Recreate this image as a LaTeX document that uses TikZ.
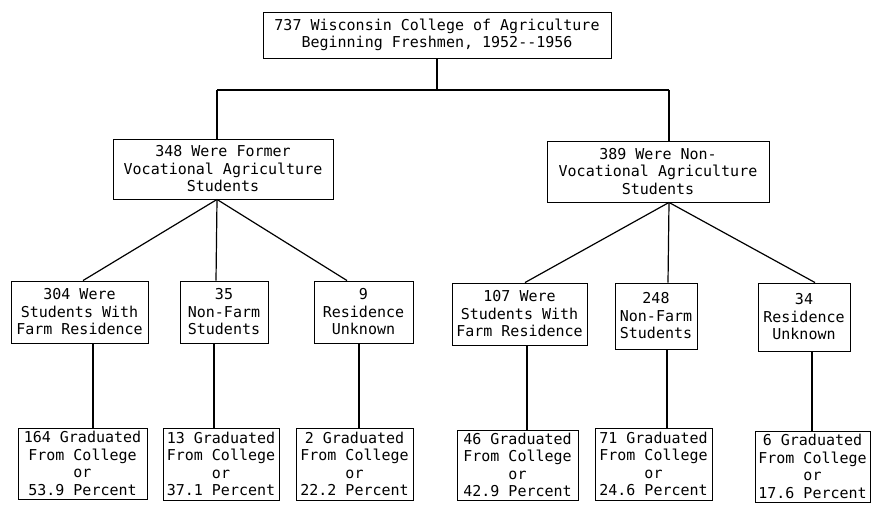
\documentclass[tikz,border=0pt]{standalone}
\usepackage{fontspec}
\setmonofont{DejaVu Sans Mono}
\begin{document}
\begin{tikzpicture}[x=1pt,y=-1pt,
  box/.style={draw,line width=0.9pt,inner sep=0pt,align=center,
    font=\ttfamily\fontsize{15}{17.5}\selectfont},
  link/.style={line width=1.2pt}]
\useasboundingbox (0,0) rectangle (872,510);
% level 1
\node[box,minimum width=348pt,minimum height=46pt] (top) at (437,35) {737 Wisconsin College of Agriculture\\Beginning Freshmen, 1952--1956};
% level 2
\node[box,minimum width=220pt,minimum height=60pt] (L2a) at (223,169) {348 Were Former\\Vocational Agriculture\\Students};
\node[box,minimum width=222pt,minimum height=61pt] (L2b) at (658,171.5) {389 Were Non-\\Vocational Agriculture\\Students};
% level 3
\node[box,minimum width=137pt,minimum height=62pt] (L3a) at (79.5,312) {304 Were\\Students With\\Farm Residence};
\node[box,minimum width=88pt,minimum height=62pt] (L3b) at (224,312) {35\\Non-Farm\\Students};
\node[box,minimum width=99pt,minimum height=62pt] (L3c) at (363.5,312) {9\\Residence\\Unknown};
\node[box,minimum width=135pt,minimum height=62pt] (L3d) at (519.5,314) {107 Were\\Students With\\Farm Residence};
\node[box,minimum width=82pt,minimum height=66pt] (L3e) at (656,316) {248\\Non-Farm\\Students};
\node[box,minimum width=92pt,minimum height=68pt] (L3f) at (804,317) {34\\Residence\\Unknown};
% level 4
\node[box,minimum width=129pt,minimum height=71pt] (L4a) at (82.5,463.5) {164 Graduated\\From College\\or\\53.9 Percent};
\node[box,minimum width=116pt,minimum height=72pt] (L4b) at (221,464) {13 Graduated\\From College\\or\\37.1 Percent};
\node[box,minimum width=117pt,minimum height=72pt] (L4c) at (354.5,464) {2 Graduated\\From College\\or\\22.2 Percent};
\node[box,minimum width=121pt,minimum height=70pt] (L4d) at (517.5,465) {46 Graduated\\From College\\or\\42.9 Percent};
\node[box,minimum width=117pt,minimum height=72pt] (L4e) at (653.5,464) {71 Graduated\\From College\\or\\24.6 Percent};
\node[box,minimum width=115pt,minimum height=71pt] (L4f) at (812.5,466.5) {6 Graduated\\From College\\or\\17.6 Percent};
% bus
\coordinate (busL) at (217,90);
\coordinate (busR) at (669,90);
\draw[link] (top.south) -- (top.south |- busL);
\draw[link] (busL) -- (busR);
\draw[link] (busL) -- (busL |- L2a.north);
\draw[link] (busR) -- (busR |- L2b.north);
% apexes
\coordinate (apL) at ([xshift=-6pt]L2a.south);
\coordinate (apR) at ([xshift=11pt]L2b.south);
\draw[link] (apL) -- ([xshift=3.5pt]L3a.north);
\draw[link] (apL) -- ([xshift=-8pt]L3b.north);
\draw[link] (apL) -- ([xshift=-16.5pt]L3c.north);
\draw[link] (apR) -- ([xshift=5.5pt]L3d.north);
\draw[link] (apR) -- ([xshift=12pt]L3e.north);
\draw[link] (apR) -- ([xshift=11pt]L3f.north);
% verticals to level 4
\coordinate (va) at ([xshift=13.5pt]L3a.south);
\coordinate (vb) at ([xshift=-10pt]L3b.south);
\coordinate (vc) at ([xshift=-4.5pt]L3c.south);
\coordinate (vd) at ([xshift=7.5pt]L3d.south);
\coordinate (ve) at ([xshift=11pt]L3e.south);
\coordinate (vf) at ([xshift=8pt]L3f.south);
\draw[link] (va) -- (va |- L4a.north);
\draw[link] (vb) -- (vb |- L4b.north);
\draw[link] (vc) -- (vc |- L4c.north);
\draw[link] (vd) -- (vd |- L4d.north);
\draw[link] (ve) -- (ve |- L4e.north);
\draw[link] (vf) -- (vf |- L4f.north);
\end{tikzpicture}
\end{document}
